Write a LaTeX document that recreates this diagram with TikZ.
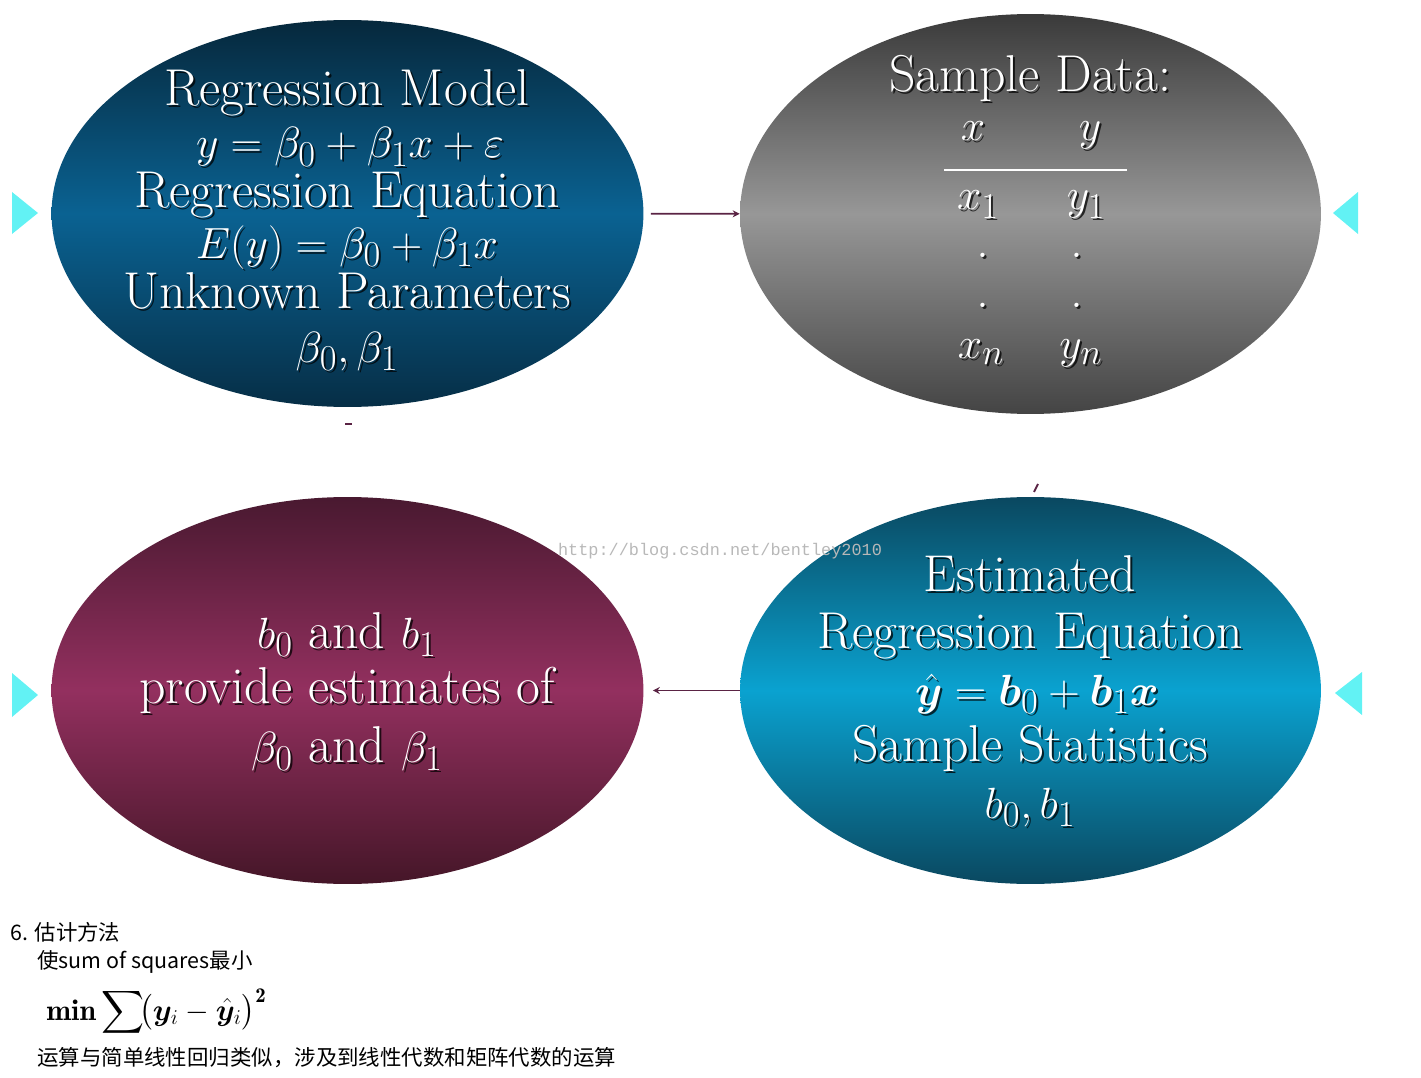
\documentclass[tikz,border=0pt]{standalone}
\usepackage{amsmath,amssymb,bm}
\usepackage{fontspec}
\newfontfamily\cjk{Noto Sans CJK SC}
\newfontfamily\wmfont{Liberation Mono}
\usetikzlibrary{shapes.geometric,arrows.meta}

\definecolor{tlTop}{HTML}{06283C}
\definecolor{tlMid}{HTML}{0A6292}
\definecolor{tlBot}{HTML}{062E46}
\definecolor{trTop}{HTML}{3A3A3A}
\definecolor{trMid}{HTML}{979797}
\definecolor{trBot}{HTML}{444444}
\definecolor{blTop}{HTML}{491930}
\definecolor{blMid}{HTML}{93305F}
\definecolor{blBot}{HTML}{451628}
\definecolor{brTop}{HTML}{0A4860}
\definecolor{brMid}{HTML}{0AA2D0}
\definecolor{brBot}{HTML}{0A4860}
\definecolor{linkred}{HTML}{5A2344}
\definecolor{tricyan}{HTML}{62F2F4}

\tikzset{
	oval/.style={ellipse, inner sep=0pt, draw=none},
	txt/.style={text=white, anchor=base, inner sep=0pt, font=\fontsize{29.5}{33}\selectfont},
	txtshade/.style={txt, text=black, opacity=0.75},
	link/.style={draw=linkred, line width=1.1pt},
	pointer/.style={fill=tricyan, draw=none},
	cn/.style={anchor=base west, inner sep=0pt, font=\cjk\fontsize{12.2}{14}\selectfont},
	wm/.style={anchor=base, inner sep=0pt, text=black!28, font=\wmfont\fontsize{9.6}{11}\selectfont}
}
% text with a dark drop shadow
\newcommand{\ovaltxt}[4]{%
	\node[txtshade] (#1s) at (#2+2,#3+2) {#4};
	\node[txt] (#1) at (#2,#3) {#4};}

\begin{document}
\begin{tikzpicture}[x=0.02cm,y=-0.02cm]
	\useasboundingbox (0,0) rectangle (1421,1078);

	% the four ovals
	\node[oval, minimum width=11.84cm, minimum height=7.74cm,
		top color=tlTop, bottom color=tlBot, middle color=tlMid] (tl) at (347.5,213.5) {};
	\node[oval, minimum width=11.62cm, minimum height=8cm,
		top color=trTop, bottom color=trBot, middle color=trMid] (tr) at (1030.5,214) {};
	\node[oval, minimum width=11.84cm, minimum height=7.74cm,
		top color=blTop, bottom color=blBot, middle color=blMid] (bl) at (347.5,690.5) {};
	\node[oval, minimum width=11.62cm, minimum height=7.74cm,
		top color=brTop, bottom color=brBot, middle color=brMid] (br) at (1030.5,690.5) {};

	% side pointers
	\fill[pointer] (12,192) -- (38,213) -- (12,234) -- cycle;
	\fill[pointer] (1358,192) -- (1333,213) -- (1358,234) -- cycle;
	\fill[pointer] (12,673) -- (38,695) -- (12,717) -- cycle;
	\fill[pointer] (1362,672) -- (1335,693) -- (1362,715) -- cycle;

	% connectors
	\draw[link, -{Stealth[length=4pt,width=4pt]}, shorten <=0.14cm] (tl) -- (tr);
	\draw[link, -{Stealth[length=4pt,width=4pt]}, shorten >=0.18cm] (br) -- (bl);
	\coordinate (m1) at (345,424);
	\coordinate (m2) at (1034,492);
	\draw[link] (m1) -- ++(7,0);
	\draw[link] (m2) -- ++(4,-8);

	% regression model
	\ovaltxt{tl1}{347}{106}{Regression Model}
	\ovaltxt{tl2}{350}{158}{$y = \beta_0 + \beta_1 x + \varepsilon$}
	\ovaltxt{tl3}{347}{208}{Regression Equation}
	\ovaltxt{tl4}{347}{258}{$E(y) = \beta_0 + \beta_1 x$}
	\ovaltxt{tl5}{347}{308}{Unknown Parameters}
	\ovaltxt{tl6}{347}{362}{$\beta_0, \beta_1$}

	% sample data
	\ovaltxt{tr1}{1030}{92}{Sample Data:}
	\ovaltxt{trx}{973}{141}{$x$}
	\ovaltxt{try}{1090}{141}{$y$}
	\draw[white, line width=1.2pt] (944,170) -- (1127,170);
	\ovaltxt{trxa}{978}{210}{$x_1$}
	\ovaltxt{trya}{1086}{210}{$y_1$}
	\ovaltxt{trdx1}{983}{257}{.}
	\ovaltxt{trdy1}{1077}{257}{.}
	\ovaltxt{trdx2}{983}{307}{.}
	\ovaltxt{trdy2}{1077}{307}{.}
	\ovaltxt{trxn}{981}{358}{$x_n$}
	\ovaltxt{tryn}{1081}{358}{$y_n$}

	% estimates
	\ovaltxt{bl1}{347}{648}{$b_0$ and $b_1$}
	\ovaltxt{bl2}{347}{703}{provide estimates of}
	\ovaltxt{bl3}{347}{762}{$\beta_0$ and $\beta_1$}

	% estimated equation
	\ovaltxt{br1}{1030}{591}{Estimated}
	\ovaltxt{br2}{1030}{648}{Regression Equation}
	\ovaltxt{br3}{1037}{705}{$\hat{\bm y} = \bm b_0 + \bm b_1 \bm x$}
	\ovaltxt{br4}{1030}{761}{Sample Statistics}
	\ovaltxt{br5}{1030}{818}{$b_0, b_1$}

	\node[wm] (wmark) at (720,555) {http://blog.csdn.net/bentley2010};

	% notes below
	\node[cn] (head) at (10,940) {6. 估计方法};
	\node[cn] (note1) at (37,968) {使sum of squares最小};
	\node[anchor=base west, inner sep=0pt, font=\fontsize{17}{19}\selectfont] (minf) at (46,1020)
		{$\mathbf{min}\displaystyle\sum\!\bigl(\bm y_i - \hat{\bm y}_i\bigr)^{\mathbf 2}$};
	\node[cn] (note2) at (37,1065) {运算与简单线性回归类似，涉及到线性代数和矩阵代数的运算};
\end{tikzpicture}
\end{document}
